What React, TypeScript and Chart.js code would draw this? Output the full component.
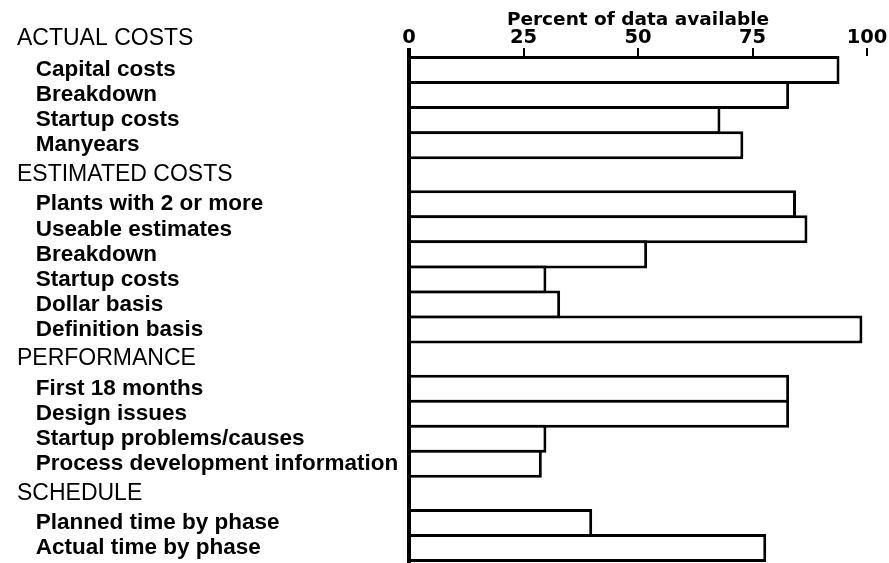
import React, { useEffect, useRef } from "react";
import { Chart, registerables } from "chart.js";

Chart.register(...registerables);

// ---- Data ----
const sectionTitles = ["ACTUAL COSTS", "ESTIMATED COSTS", "PERFORMANCE", "SCHEDULE"];

const actualCostsItems = ["Capital costs", "Breakdown", "Startup costs", "Manyears"];
const actualCostsValues = [94, 83, 68, 73];

const estimatedCostsItems = [
  "Plants with 2 or more",
  "Useable estimates",
  "Breakdown",
  "Startup costs",
  "Dollar basis",
  "Definition basis",
];
const estimatedCostsValues = [84.5, 87, 52, 30, 33, 99];

const performanceItems = [
  "First 18 months",
  "Design issues",
  "Startup problems/causes",
  "Process development information",
];
const performanceValues = [83, 83, 30, 29];

const scheduleItems = ["Planned time by phase", "Actual time by phase"];
const scheduleValues = [40, 78];

const percentTicks = [0, 25, 50, 75, 100];
const axisTitle = "Percent of data available";

const sectionItems = [actualCostsItems, estimatedCostsItems, performanceItems, scheduleItems];
const sectionValues = [actualCostsValues, estimatedCostsValues, performanceValues, scheduleValues];

// ---- Layout constants (row units) ----
const HEADER_ROWS = 1.36;
const BAR_OVERLAP = 0.12;
const INDENT = "   ";

function buildRows() {
  const tickValues: number[] = [];
  const tickLabels: string[] = [];
  const tickIsHeader: boolean[] = [];
  const points: { x: number; y: number }[] = [];
  let edge = 0;
  sectionTitles.forEach((title, s) => {
    let pos: number;
    if (s === 0) {
      pos = -HEADER_ROWS / 2 - 0.08;
    } else {
      pos = edge + HEADER_ROWS / 2;
      edge += HEADER_ROWS;
    }
    tickValues.push(pos);
    tickLabels.push(title);
    tickIsHeader.push(true);
    sectionItems[s].forEach((label, i) => {
      const c = edge + 0.5;
      tickValues.push(c);
      tickLabels.push(INDENT + label);
      tickIsHeader.push(false);
      points.push({ x: sectionValues[s][i], y: c });
      edge += 1;
    });
  });
  return { tickValues, tickLabels, tickIsHeader, points, end: edge };
}

export default function App() {
  const canvasRef = useRef<HTMLCanvasElement | null>(null);

  useEffect(() => {
    if (!canvasRef.current) return;
    const rows = buildRows();
    const chart = new Chart(canvasRef.current, {
      type: "bar",
      data: {
        datasets: [
          {
            data: rows.points as any,
            backgroundColor: "#ffffff",
            borderColor: "#000000",
            borderWidth: 3,
            borderSkipped: "start",
            categoryPercentage: 1,
            barPercentage: 1 + BAR_OVERLAP,
          } as any,
        ],
      },
      options: {
        indexAxis: "y",
        animation: false,
        responsive: true,
        maintainAspectRatio: false,
        layout: { padding: { left: 17, right: 22, top: 0, bottom: 1 } },
        plugins: {
          legend: { display: false },
          tooltip: { enabled: false },
        },
        scales: {
          x: {
            type: "linear",
            position: "top",
            min: 0,
            max: 100,
            offset: false,
            afterBuildTicks: (scale: any) => {
              scale.ticks = percentTicks.map((v) => ({ value: v }));
            },
            ticks: {
              autoSkip: false,
              maxRotation: 0,
              padding: 0,
              color: "#000",
              font: { family: "DejaVu Sans", weight: "bold", size: 19.5, lineHeight: 1 },
            },
            grid: {
              display: true,
              drawOnChartArea: false,
              drawTicks: true,
              tickLength: 8,
              color: "#000",
              lineWidth: (c: any) => (c.index === 0 ? 4 : 2),
            },
            border: { display: false },
            title: {
              display: true,
              text: axisTitle,
              color: "#000",
              font: { family: "DejaVu Sans", weight: "bold", size: 18.5, lineHeight: 1 },
              padding: { top: 11, bottom: 0 },
            },
            afterFit: (scale: any) => {
              scale.height = 56;
              scale.paddingLeft = 0;
              scale.paddingRight = 0;
            },
          },
          y: {
            type: "linear",
            reverse: true,
            offset: false,
            z: 1,
            min: -BAR_OVERLAP / 2,
            max: rows.end + BAR_OVERLAP / 2,
            afterBuildTicks: (scale: any) => {
              scale.ticks = rows.tickValues.map((v) => ({ value: v }));
            },
            ticks: {
              autoSkip: false,
              crossAlign: "far",
              color: "#000",
              callback: (_v: any, i: number) => rows.tickLabels[i],
              font: (c: any) =>
                rows.tickIsHeader[c.index]
                  ? { family: "Liberation Sans", weight: "normal", size: 23, lineHeight: 1 }
                  : { family: "Liberation Sans", weight: "bold", size: 22.5, lineHeight: 1 },
            },
            grid: { display: false, offset: false },
            border: { display: true, color: "#000", width: 4 },
            afterFit: (scale: any) => {
              scale.width = 392;
              scale.paddingTop = 0;
              scale.paddingBottom = 0;
            },
          },
        },
      } as any,
    });
    return () => chart.destroy();
  }, []);

  return (
    <div style={{ position: "absolute", left: 0, top: 0, width: 889, height: 563, background: "#fff" }}>
      <canvas ref={canvasRef} />
    </div>
  );
}
